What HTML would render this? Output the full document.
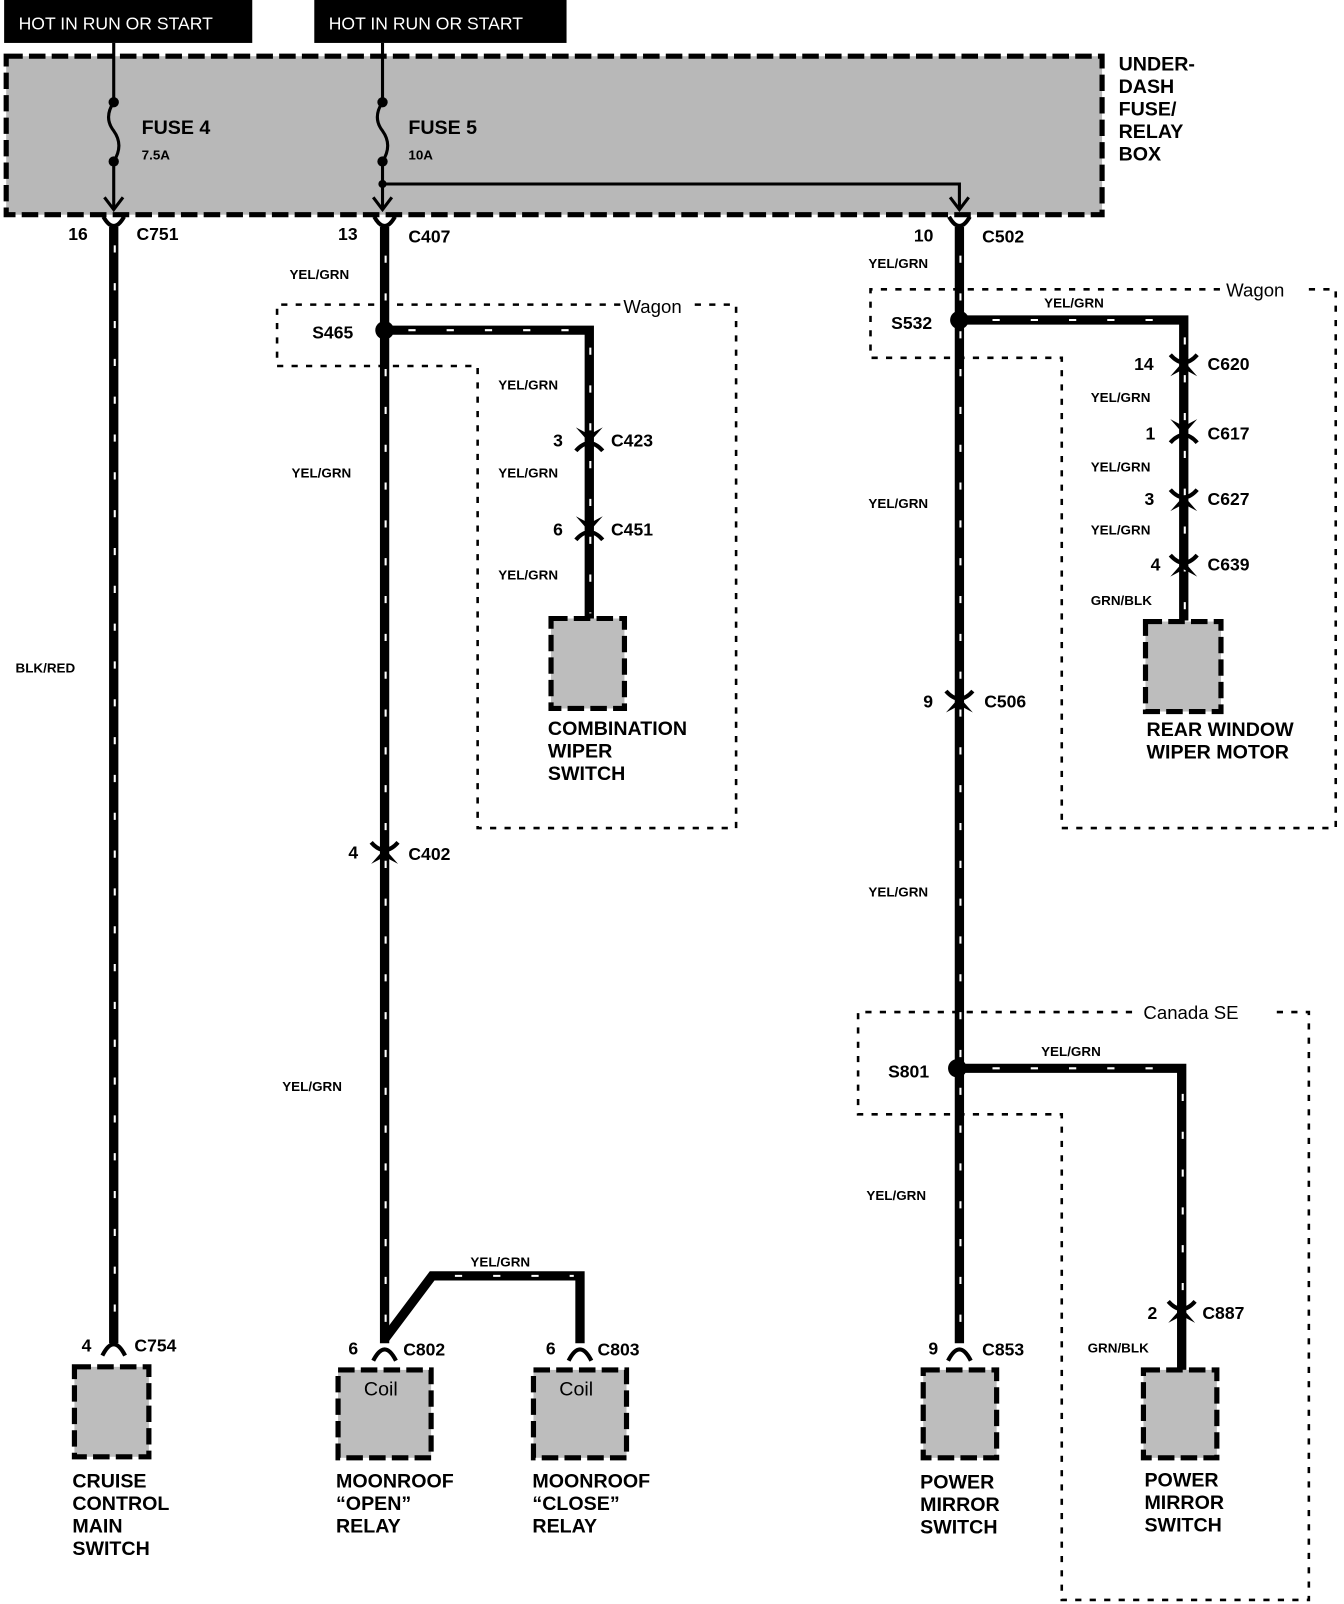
<!DOCTYPE html>
<html><head><meta charset="utf-8"><style>
html,body{margin:0;padding:0;background:#fff;}
svg{display:block;}
text{font-family:"Liberation Sans",sans-serif;font-weight:bold;fill:#000;}
.s{font-size:13px;}
.m{font-size:17px;}
.l{font-size:19px;}
</style></head><body>
<svg width="1344" height="1604" viewBox="0 0 1300 1569" preserveAspectRatio="none" xmlns="http://www.w3.org/2000/svg">
<rect x="4" y="0" width="240" height="42" fill="#000"/>
<text x="18" y="29" style="font-weight:normal;font-size:17px;fill:#fff">HOT IN RUN OR START</text>
<rect x="304" y="0" width="244" height="42" fill="#000"/>
<text x="318" y="29" style="font-weight:normal;font-size:17px;fill:#fff">HOT IN RUN OR START</text>

<rect x="6" y="55" width="1060" height="155" fill="#b8b8b8" stroke="#000" stroke-width="5" stroke-dasharray="16 6"/>
<g stroke="#000" stroke-width="3" fill="none">
<path d="M110 42 V100 Q100 115 110 128 Q120 142 110 158 V205"/>
<path d="M370 42 V100 Q360 115 370 128 Q380 142 370 158 V205"/>
<path d="M370 180 H928 V205"/>
<path d="M101 193 L110 205 L119 193"/><path d="M361 193 L370 205 L379 193"/><path d="M919 193 L928 205 L937 193"/>
</g>
<circle cx="110" cy="100" r="5"/><circle cx="110" cy="158" r="5"/>
<circle cx="370" cy="100" r="5"/><circle cx="370" cy="158" r="5"/><circle cx="370" cy="180" r="4"/>
<text x="137" y="131" class="l">FUSE 4</text><text x="137" y="156" class="s">7.5A</text>
<text x="395" y="131" class="l">FUSE 5</text><text x="395" y="156" class="s">10A</text>
<text x="1082" y="69" class="l">UNDER-</text><text x="1082" y="91" class="l">DASH</text><text x="1082" y="113" class="l">FUSE/</text><text x="1082" y="135" class="l">RELAY</text><text x="1082" y="157" class="l">BOX</text>

<g fill="none" stroke="#000" stroke-width="2.5" stroke-dasharray="6 8">
<path d="M600 298 H268 V358 H462 V810 H712 V298 H672"/>
<path d="M1180 283 H842 V350 H1027 V810 H1292 V283 H1260"/>
<path d="M1095 990 H830 V1090 H1027 V1565 H1266 V990 H1228"/>
</g>
<text x="603" y="306" style="font-weight:normal;font-size:18px">Wagon</text>
<text x="1186" y="290" style="font-weight:normal;font-size:18px">Wagon</text>
<text x="1106" y="997" style="font-weight:normal;font-size:18px">Canada SE</text>

<g stroke="#000" stroke-width="9" fill="none">
<path d="M110 222 V1314"/>
<path d="M372 222 V1314"/>
<path d="M372 323 H570 V605"/>
<path d="M372 1310 L418 1248 H561 V1314"/>
<path d="M928 222 V1314"/>
<path d="M928 313 H1145 V607"/>
<path d="M926 1045 H1143 V1340"/>
</g>
<g stroke="#fff" stroke-width="2" fill="none" stroke-dasharray="7 30">
<path d="M111 240 V1300"/><path d="M373 250 V1300"/><path d="M571 340 V600"/>
<path d="M395 323 H560"/><path d="M440 1248 H555"/>
<path d="M929 250 V1300"/><path d="M960 313 H1135"/><path d="M1146 330 V600"/>
<path d="M960 1045 H1130"/><path d="M1144 1070 V1270"/>
</g>
<circle cx="372" cy="323" r="9"/><circle cx="928" cy="313" r="9"/><circle cx="926" cy="1045" r="9"/>

<g stroke="#000" stroke-width="4" fill="none">
<path d="M100 212 Q110 230 120 212"/><path d="M362 212 Q372 230 382 212"/><path d="M918 212 Q928 230 938 212"/>
<path d="M99 1326 Q110 1304 121 1326"/><path d="M361 1331 Q372 1309 383 1331"/><path d="M550 1331 Q561 1309 572 1331"/><path d="M917 1331 Q928 1309 939 1331"/>
</g>
<g stroke="#fff" stroke-width="1.5">
</g>
<g id="cx">
<!-- down type -->
<path d="M557 418 L570 433 L583 418 L570 425 Z"/><path d="M557 441 Q570 426 583 441" stroke="#000" stroke-width="4" fill="none"/>
<path d="M557 505 L570 520 L583 505 L570 512 Z"/><path d="M557 528 Q570 513 583 528" stroke="#000" stroke-width="4" fill="none"/>
<path d="M1132 410 L1145 425 L1158 410 L1145 417 Z"/><path d="M1132 433 Q1145 418 1158 433" stroke="#000" stroke-width="4" fill="none"/>
<!-- up type -->
<path d="M1132 347 Q1145 362 1158 347" stroke="#000" stroke-width="4" fill="none"/><path d="M1132 368 L1145 353 L1158 368 L1145 361 Z"/>
<path d="M1132 479 Q1145 494 1158 479" stroke="#000" stroke-width="4" fill="none"/><path d="M1132 500 L1145 485 L1158 500 L1145 493 Z"/>
<path d="M1132 543 Q1145 558 1158 543" stroke="#000" stroke-width="4" fill="none"/><path d="M1132 564 L1145 549 L1158 564 L1145 557 Z"/>
<path d="M359 824 Q372 839 385 824" stroke="#000" stroke-width="4" fill="none"/><path d="M359 845 L372 830 L385 845 L372 838 Z"/>
<path d="M915 676 Q928 691 941 676" stroke="#000" stroke-width="4" fill="none"/><path d="M915 697 L928 682 L941 697 L928 690 Z"/>
<path d="M1130 1273 Q1143 1288 1156 1273" stroke="#000" stroke-width="4" fill="none"/><path d="M1130 1294 L1143 1279 L1156 1294 L1143 1287 Z"/>
</g>

<g stroke="#000" stroke-width="5" stroke-dasharray="16 6">
<rect x="72" y="1337" width="72" height="88" fill="#bdbdbd"/>
<rect x="327" y="1340" width="90" height="86" fill="#bdbdbd"/>
<rect x="516" y="1340" width="90" height="86" fill="#bdbdbd"/>
<rect x="893" y="1340" width="71" height="86" fill="#bdbdbd"/>
<rect x="1106" y="1340" width="71" height="86" fill="#bdbdbd"/>
<rect x="533" y="605" width="71" height="88" fill="#bdbdbd"/>
<rect x="1108" y="608" width="73" height="88" fill="#bdbdbd"/>
</g>
<text x="352" y="1365" style="font-weight:normal;font-size:19px">Coil</text>
<text x="541" y="1365" style="font-weight:normal;font-size:19px">Coil</text>

<g>
<text x="66" y="235" class="m">16</text><text x="132" y="235" class="m">C751</text>
<text x="327" y="235" class="m">13</text><text x="395" y="237" class="m">C407</text>
<text x="884" y="236" class="m">10</text><text x="950" y="237" class="m">C502</text>
<text x="302" y="331" class="m">S465</text><text x="862" y="322" class="m">S532</text><text x="859" y="1054" class="m">S801</text>
<text x="535" y="437" class="m">3</text><text x="591" y="437" class="m">C423</text>
<text x="535" y="524" class="m">6</text><text x="591" y="524" class="m">C451</text>
<text x="337" y="840" class="m">4</text><text x="395" y="841" class="m">C402</text>
<text x="1097" y="362" class="m">14</text><text x="1168" y="362" class="m">C620</text>
<text x="1108" y="430" class="m">1</text><text x="1168" y="430" class="m">C617</text>
<text x="1107" y="494" class="m">3</text><text x="1168" y="494" class="m">C627</text>
<text x="1113" y="558" class="m">4</text><text x="1168" y="558" class="m">C639</text>
<text x="893" y="692" class="m">9</text><text x="952" y="692" class="m">C506</text>
<text x="1110" y="1290" class="m">2</text><text x="1163" y="1290" class="m">C887</text>
<text x="79" y="1322" class="m">4</text><text x="130" y="1322" class="m">C754</text>
<text x="337" y="1325" class="m">6</text><text x="390" y="1326" class="m">C802</text>
<text x="528" y="1325" class="m">6</text><text x="578" y="1326" class="m">C803</text>
<text x="898" y="1325" class="m">9</text><text x="950" y="1326" class="m">C853</text>
</g>
<g>
<text x="15" y="658" class="s">BLK/RED</text>
<text x="280" y="273" class="s">YEL/GRN</text>
<text x="282" y="467" class="s">YEL/GRN</text>
<text x="273" y="1067" class="s">YEL/GRN</text>
<text x="482" y="381" class="s">YEL/GRN</text>
<text x="482" y="467" class="s">YEL/GRN</text>
<text x="482" y="567" class="s">YEL/GRN</text>
<text x="455" y="1239" class="s">YEL/GRN</text>
<text x="840" y="262" class="s">YEL/GRN</text>
<text x="1010" y="301" class="s">YEL/GRN</text>
<text x="1055" y="393" class="s">YEL/GRN</text>
<text x="1055" y="461" class="s">YEL/GRN</text>
<text x="1055" y="523" class="s">YEL/GRN</text>
<text x="1055" y="592" class="s">GRN/BLK</text>
<text x="840" y="497" class="s">YEL/GRN</text>
<text x="840" y="877" class="s">YEL/GRN</text>
<text x="1007" y="1033" class="s">YEL/GRN</text>
<text x="838" y="1174" class="s">YEL/GRN</text>
<text x="1052" y="1323" class="s">GRN/BLK</text>
</g>
<g>
<text x="530" y="719" class="l">COMBINATION</text><text x="530" y="741" class="l">WIPER</text><text x="530" y="763" class="l">SWITCH</text>
<text x="1109" y="720" class="l">REAR WINDOW</text><text x="1109" y="742" class="l">WIPER MOTOR</text>
<text x="70" y="1455" class="l">CRUISE</text><text x="70" y="1477" class="l">CONTROL</text><text x="70" y="1499" class="l">MAIN</text><text x="70" y="1521" class="l">SWITCH</text>
<text x="325" y="1455" class="l">MOONROOF</text><text x="325" y="1477" class="l">“OPEN”</text><text x="325" y="1499" class="l">RELAY</text>
<text x="515" y="1455" class="l">MOONROOF</text><text x="515" y="1477" class="l">“CLOSE”</text><text x="515" y="1499" class="l">RELAY</text>
<text x="890" y="1456" class="l">POWER</text><text x="890" y="1478" class="l">MIRROR</text><text x="890" y="1500" class="l">SWITCH</text>
<text x="1107" y="1454" class="l">POWER</text><text x="1107" y="1476" class="l">MIRROR</text><text x="1107" y="1498" class="l">SWITCH</text>
</g>
</svg>
</body></html>
